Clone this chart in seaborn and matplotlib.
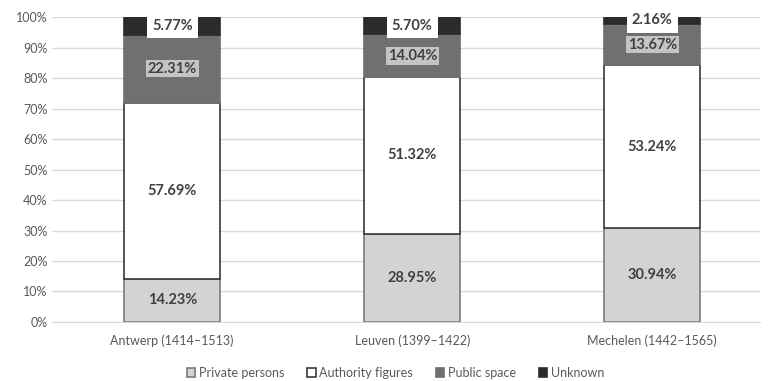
import matplotlib
matplotlib.use("Agg")
import matplotlib.pyplot as plt
import seaborn as sns
import pandas as pd
from matplotlib.patches import Patch
from matplotlib.ticker import PercentFormatter

# --- data ---
cities = ["Antwerp (1414\u20131513)", "Leuven (1399\u20131422)", "Mechelen (1442\u20131565)"]
private_persons = [14.23, 28.95, 30.94]
authority_figures = [57.69, 51.32, 53.24]
public_space = [22.31, 14.04, 13.67]
unknown = [5.77, 5.70, 2.16]

series = ["Private persons", "Authority figures", "Public space", "Unknown"]
values = [private_persons, authority_figures, public_space, unknown]
fills = ["#d3d3d3", "#ffffff", "#707070", "#2b2b2b"]
edges = ["#7a7a7a", "#3a3a3a", "#707070", "#2b2b2b"]
label_box = [None, None, ("#c4c4c4", 0.12), ("#ffffff", 0.35)]

sns.set_style("white")
plt.rcParams["font.family"] = ["Lato", "DejaVu Sans"]

fig = plt.figure(figsize=(7.68, 3.81), dpi=100)
ax = fig.add_axes([0.068, 0.155, 0.922, 0.80])

bottom = [0.0, 0.0, 0.0]
for name, vals, fc, ec, box in zip(series, values, fills, edges, label_box):
    df = pd.DataFrame({"city": cities, "val": vals})
    sns.barplot(data=df, x="city", y="val", bottom=bottom, color=fc, saturation=1,
                width=0.40, edgecolor=ec, linewidth=1.2, ax=ax, zorder=3)
    for i, v in enumerate(vals):
        kw = dict(ha="center", va="center", fontsize=10.5, fontweight="bold",
                  color="#404040", zorder=5)
        if box:
            kw["bbox"] = dict(boxstyle=f"square,pad={box[1]}", fc=box[0], ec="none")
        ax.text(i, bottom[i] + v / 2, f"{v:.2f}%", **kw)
    bottom = [b + v for b, v in zip(bottom, vals)]

ax.set_ylim(0, 100)
ax.set_xlim(-0.5, 2.45)
ax.set_yticks(range(0, 101, 10))
ax.yaxis.set_major_formatter(PercentFormatter(decimals=0))
ax.grid(axis="y", color="#d9d9d9", linewidth=1, zorder=0)
ax.set_axisbelow(True)
for s in ["top", "right", "left"]:
    ax.spines[s].set_visible(False)
ax.spines["bottom"].set_color("#d9d9d9")
ax.tick_params(axis="both", length=0, labelsize=9, colors="#595959")
ax.tick_params(axis="x", pad=9)
ax.set_xlabel("")
ax.set_ylabel("")

handles = [Patch(facecolor=fc, edgecolor=ec, linewidth=1.2) for fc, ec in zip(fills, edges)]
fig.legend(handles, series, loc="center", bbox_to_anchor=(0.515, 0.022), ncol=4,
           frameon=False, fontsize=9, handlelength=0.7, handleheight=0.7,
           handletextpad=0.3, columnspacing=1.8, labelcolor="#595959")

fig.savefig("out.png", dpi=100)
